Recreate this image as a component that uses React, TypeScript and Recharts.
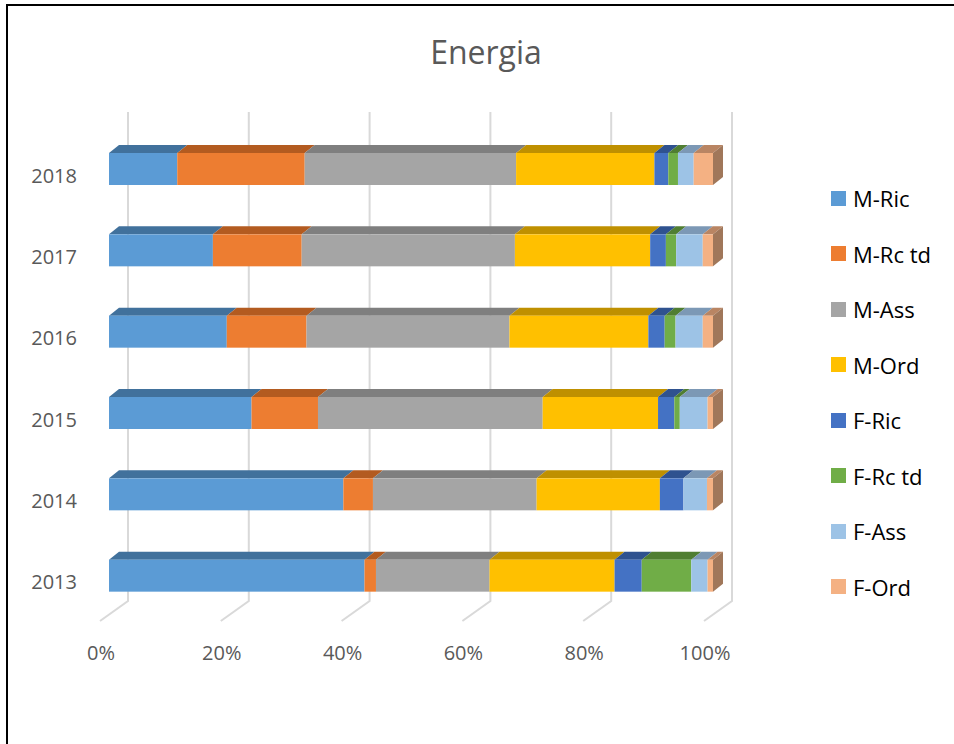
import { BarChart, Bar, XAxis, YAxis, CartesianGrid, Legend } from "recharts";

const years = ["2018", "2017", "2016", "2015", "2014", "2013"];
const mRic = [11.3, 17.2, 19.5, 23.6, 38.8, 42.3];
const mRcTd = [21.1, 14.7, 13.2, 11.0, 4.9, 1.9];
const mAss = [35.0, 35.3, 33.6, 37.2, 27.1, 18.8];
const mOrd = [22.9, 22.4, 23.0, 19.1, 20.4, 20.7];
const fRic = [2.3, 2.6, 2.7, 2.7, 3.9, 4.5];
const fRcTd = [1.6, 1.7, 1.8, 0.9, 0.0, 8.2];
const fAss = [2.6, 4.4, 4.5, 4.6, 3.9, 2.7];
const fOrd = [3.2, 1.7, 1.7, 0.9, 1.0, 0.9];
const xTicks = [0, 0.2, 0.4, 0.6, 0.8, 1];

const series = [
  { key: "mRic", name: "M-Ric", values: mRic, color: "#5B9BD5", top: "#41719C" },
  { key: "mRcTd", name: "M-Rc td", values: mRcTd, color: "#ED7D31", top: "#B35B20" },
  { key: "mAss", name: "M-Ass", values: mAss, color: "#A5A5A5", top: "#7F7F7F" },
  { key: "mOrd", name: "M-Ord", values: mOrd, color: "#FFC000", top: "#BF9000" },
  { key: "fRic", name: "F-Ric", values: fRic, color: "#4472C4", top: "#2F528F" },
  { key: "fRcTd", name: "F-Rc td", values: fRcTd, color: "#70AD47", top: "#507E32" },
  { key: "fAss", name: "F-Ass", values: fAss, color: "#9DC3E6", top: "#7C98B5" },
  { key: "fOrd", name: "F-Ord", values: fOrd, color: "#F4B183", top: "#B98563" },
];

const data = years.map((year, i) => {
  const row: Record<string, any> = { year };
  series.forEach((s) => (row[s.key] = s.values[i]));
  return row;
});

const FONT = "'Open Sans', sans-serif";
const TEXT = "#595959";
const DX = 10; // depth of the fake 3d
const DY = 8;

// front face + top face, last series also gets the end face
const make3d = (topColor: string, withSide: boolean) => (props: any) => {
  const { x, y, width, height, fill } = props;
  if (!width || width <= 0) return <g />;
  return (
    <g>
      <polygon
        points={`${x},${y} ${x + DX},${y - DY} ${x + width + DX},${y - DY} ${x + width},${y}`}
        fill={topColor}
      />
      <rect x={x} y={y} width={width} height={height} fill={fill} />
      {withSide && (
        <polygon
          points={`${x + width},${y} ${x + width + DX},${y - DY} ${x + width + DX},${y + height - DY} ${x + width},${y + height}`}
          fill="#A0775A"
        />
      )}
    </g>
  );
};

const gridLine = (props: any) => {
  const { x1, y1, y2, index } = props;
  const bx = x1 + 19;
  return (
    <path
      key={`gl-${index}-${x1}`}
      d={`M${bx},${y1 - 16} L${bx},${y2 - 15} L${x1 - 9},${y2 + 5}`}
      stroke="#D9D9D9"
      strokeWidth={2}
      fill="none"
    />
  );
};

const XTick = (props: any) => {
  const { x, y, payload } = props;
  return (
    <text x={x - 8} y={y + 37} dy="0.35em" textAnchor="middle" fill={TEXT} fontSize={20} fontFamily={FONT}>
      {Math.round(payload.value * 100)}%
    </text>
  );
};

const YTick = (props: any) => {
  const { x, y, payload } = props;
  return (
    <text x={x - 32} y={y + 7} dy="0.35em" textAnchor="end" fill={TEXT} fontSize={20} fontFamily={FONT}>
      {payload.value}
    </text>
  );
};

const LegendBox = () => (
  <div style={{ fontFamily: FONT }}>
    {series.map((s, i) => (
      <div
        key={s.key}
        style={{ position: "absolute", left: 0, top: i * 55.5, display: "flex", alignItems: "center", whiteSpace: "nowrap" }}
      >
        <span style={{ width: 15, height: 15, background: s.color, display: "inline-block", marginRight: 7 }} />
        <span style={{ fontSize: 22, color: "#000", lineHeight: "22px" }}>{s.name}</span>
      </div>
    ))}
  </div>
);

export default function App() {
  return (
    <>
      <style>{`body{margin:0;overflow:hidden;background:#fff}`}</style>
      <div
        style={{
          position: "absolute",
          left: 6,
          top: 4,
          width: 980,
          height: 800,
          border: "2px solid #000",
        }}
      />
      <div
        style={{
          position: "absolute",
          left: 0,
          top: 30,
          width: 972,
          textAlign: "center",
          fontFamily: FONT,
          fontSize: 32,
          color: TEXT,
        }}
      >
        Energia
      </div>
      <div style={{ position: "absolute", left: 0, top: 0 }}>
        <BarChart
          width={954}
          height={744}
          data={data}
          layout="vertical"
          stackOffset="expand"
          barSize={32}
          margin={{ top: 128, right: 241, bottom: 98, left: 29 }}
        >
          <CartesianGrid horizontal={false} vertical={gridLine} />
          <XAxis
            type="number"
            domain={[0, 1]}
            ticks={xTicks}
            axisLine={false}
            tickLine={false}
            tickSize={0}
            tickMargin={0}
            height={30}
            tick={<XTick />}
          />
          <YAxis
            type="category"
            dataKey="year"
            width={80}
            axisLine={false}
            tickLine={false}
            tickSize={0}
            tickMargin={0}
            tick={<YTick />}
          />
          <Legend
            content={<LegendBox />}
            wrapperStyle={{ position: "absolute", left: 831, top: 187, width: 0, height: 0 }}
          />
          {series.map((s, i) => (
            <Bar
              key={s.key}
              dataKey={s.key}
              name={s.name}
              stackId="a"
              fill={s.color}
              isAnimationActive={false}
              shape={make3d(s.top, i === series.length - 1)}
            />
          ))}
        </BarChart>
      </div>
    </>
  );
}
